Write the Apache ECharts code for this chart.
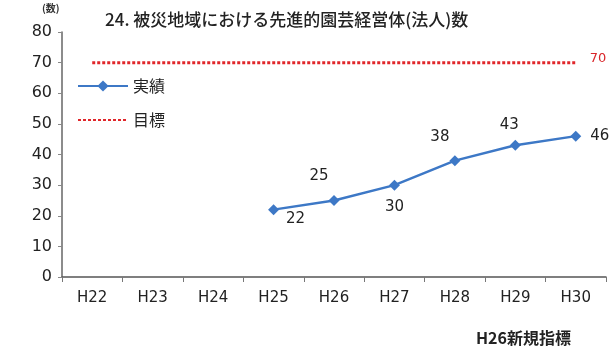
<!DOCTYPE html>
<html><head><meta charset="utf-8">
<script src="https://cdn.jsdelivr.net/npm/echarts@6/dist/echarts.min.js"></script>
<style>html,body{margin:0;padding:0;background:#fff;}#c{width:611px;height:356px;}</style>
</head><body><div id="c"></div>
<script>
const categories = ['H22','H23','H24','H25','H26','H27','H28','H29','H30'];
const actual = [null, null, null, 22, 25, 30, 38, 43, 46];
const target = [70, 70, 70, 70, 70, 70, 70, 70, 70];
const yTicks = [0, 80, 10];
const labelPos = [null, null, null, 'bottomRight', 'topLeft', 'bottom', 'topLeft', 'top', 'right'];

const FONT = '"DejaVu Sans", "Noto Sans CJK JP", sans-serif';
const chart = echarts.init(document.getElementById('c'));
const posMap = {
  bottomRight: {position: 'right', offset: [2, 9]},
  topLeft: {position: 'top', offset: [-15, -6]},
  bottom: {position: 'bottom', offset: [0, 4]},
  top: {position: 'top', offset: [-6, -2]},
  right: {position: 'right', offset: [4, 0]}
};
chart.setOption({
  backgroundColor: '#fff',
  animation: false,
  title: {
    text: '24. 被災地域における先進的園芸経営体(法人)数',
    left: 100, top: 6,
    textStyle: {fontFamily: '"Noto Sans CJK JP", sans-serif', fontSize: 17, fontWeight: 500, color: '#222'}
  },
  graphic: [
    {type: 'text', left: 476, top: 330, style: {text: 'H26新規指標', font: 'bold 16px "Noto Sans CJK JP", sans-serif', fill: '#222'}},
    {type: 'text', left: 42, top: 3, style: {text: '(数)', font: 'bold 10px "Noto Sans CJK JP", sans-serif', fill: '#333'}}
  ],
  legend: {
    orient: 'vertical', left: 72, top: 73, itemGap: 18, itemWidth: 50, itemHeight: 14,
    textStyle: {fontFamily: '"Noto Sans CJK JP", sans-serif', fontSize: 16, color: '#222'},
    data: ['実績', {name: '目標', itemStyle: {opacity: 0}}]
  },
  grid: {left: 62, right: 5, top: 32, bottom: 79},
  xAxis: {
    type: 'category', data: categories, boundaryGap: true,
    axisLine: {lineStyle: {color: '#555', width: 1.5}},
    axisTick: {show: true, length: 5, lineStyle: {color: '#777'}},
    axisLabel: {fontFamily: FONT, fontSize: 15, color: '#222', margin: 14}
  },
  yAxis: {
    type: 'value', min: yTicks[0], max: yTicks[1], interval: yTicks[2],
    axisLine: {show: true, lineStyle: {color: '#666', width: 1.5}},
    axisTick: {show: true, length: 4, lineStyle: {color: '#888'}},
    splitLine: {show: false},
    axisLabel: {fontFamily: FONT, fontSize: 16, color: '#222', margin: 10}
  },
  series: [
    {
      name: '実績', type: 'line', data: actual.map((v, i) => v == null ? null : {
        value: v, label: Object.assign({show: true}, posMap[labelPos[i]])
      }),
      symbol: 'diamond', symbolSize: 11,
      itemStyle: {color: '#3d78c6'},
      lineStyle: {color: '#3d78c6', width: 2.5},
      label: {fontFamily: FONT, fontSize: 15, color: '#222'}
    },
    {
      name: '目標', type: 'line', data: target,
      symbol: 'none',
      itemStyle: {color: '#e0262a'},
      lineStyle: {color: '#e0262a', width: 3, type: [3, 2]},
      endLabel: {show: true, offset: [6, -4], color: '#d9262a', fontSize: 13, fontFamily: FONT}
    }
  ]
});
</script></body></html>
